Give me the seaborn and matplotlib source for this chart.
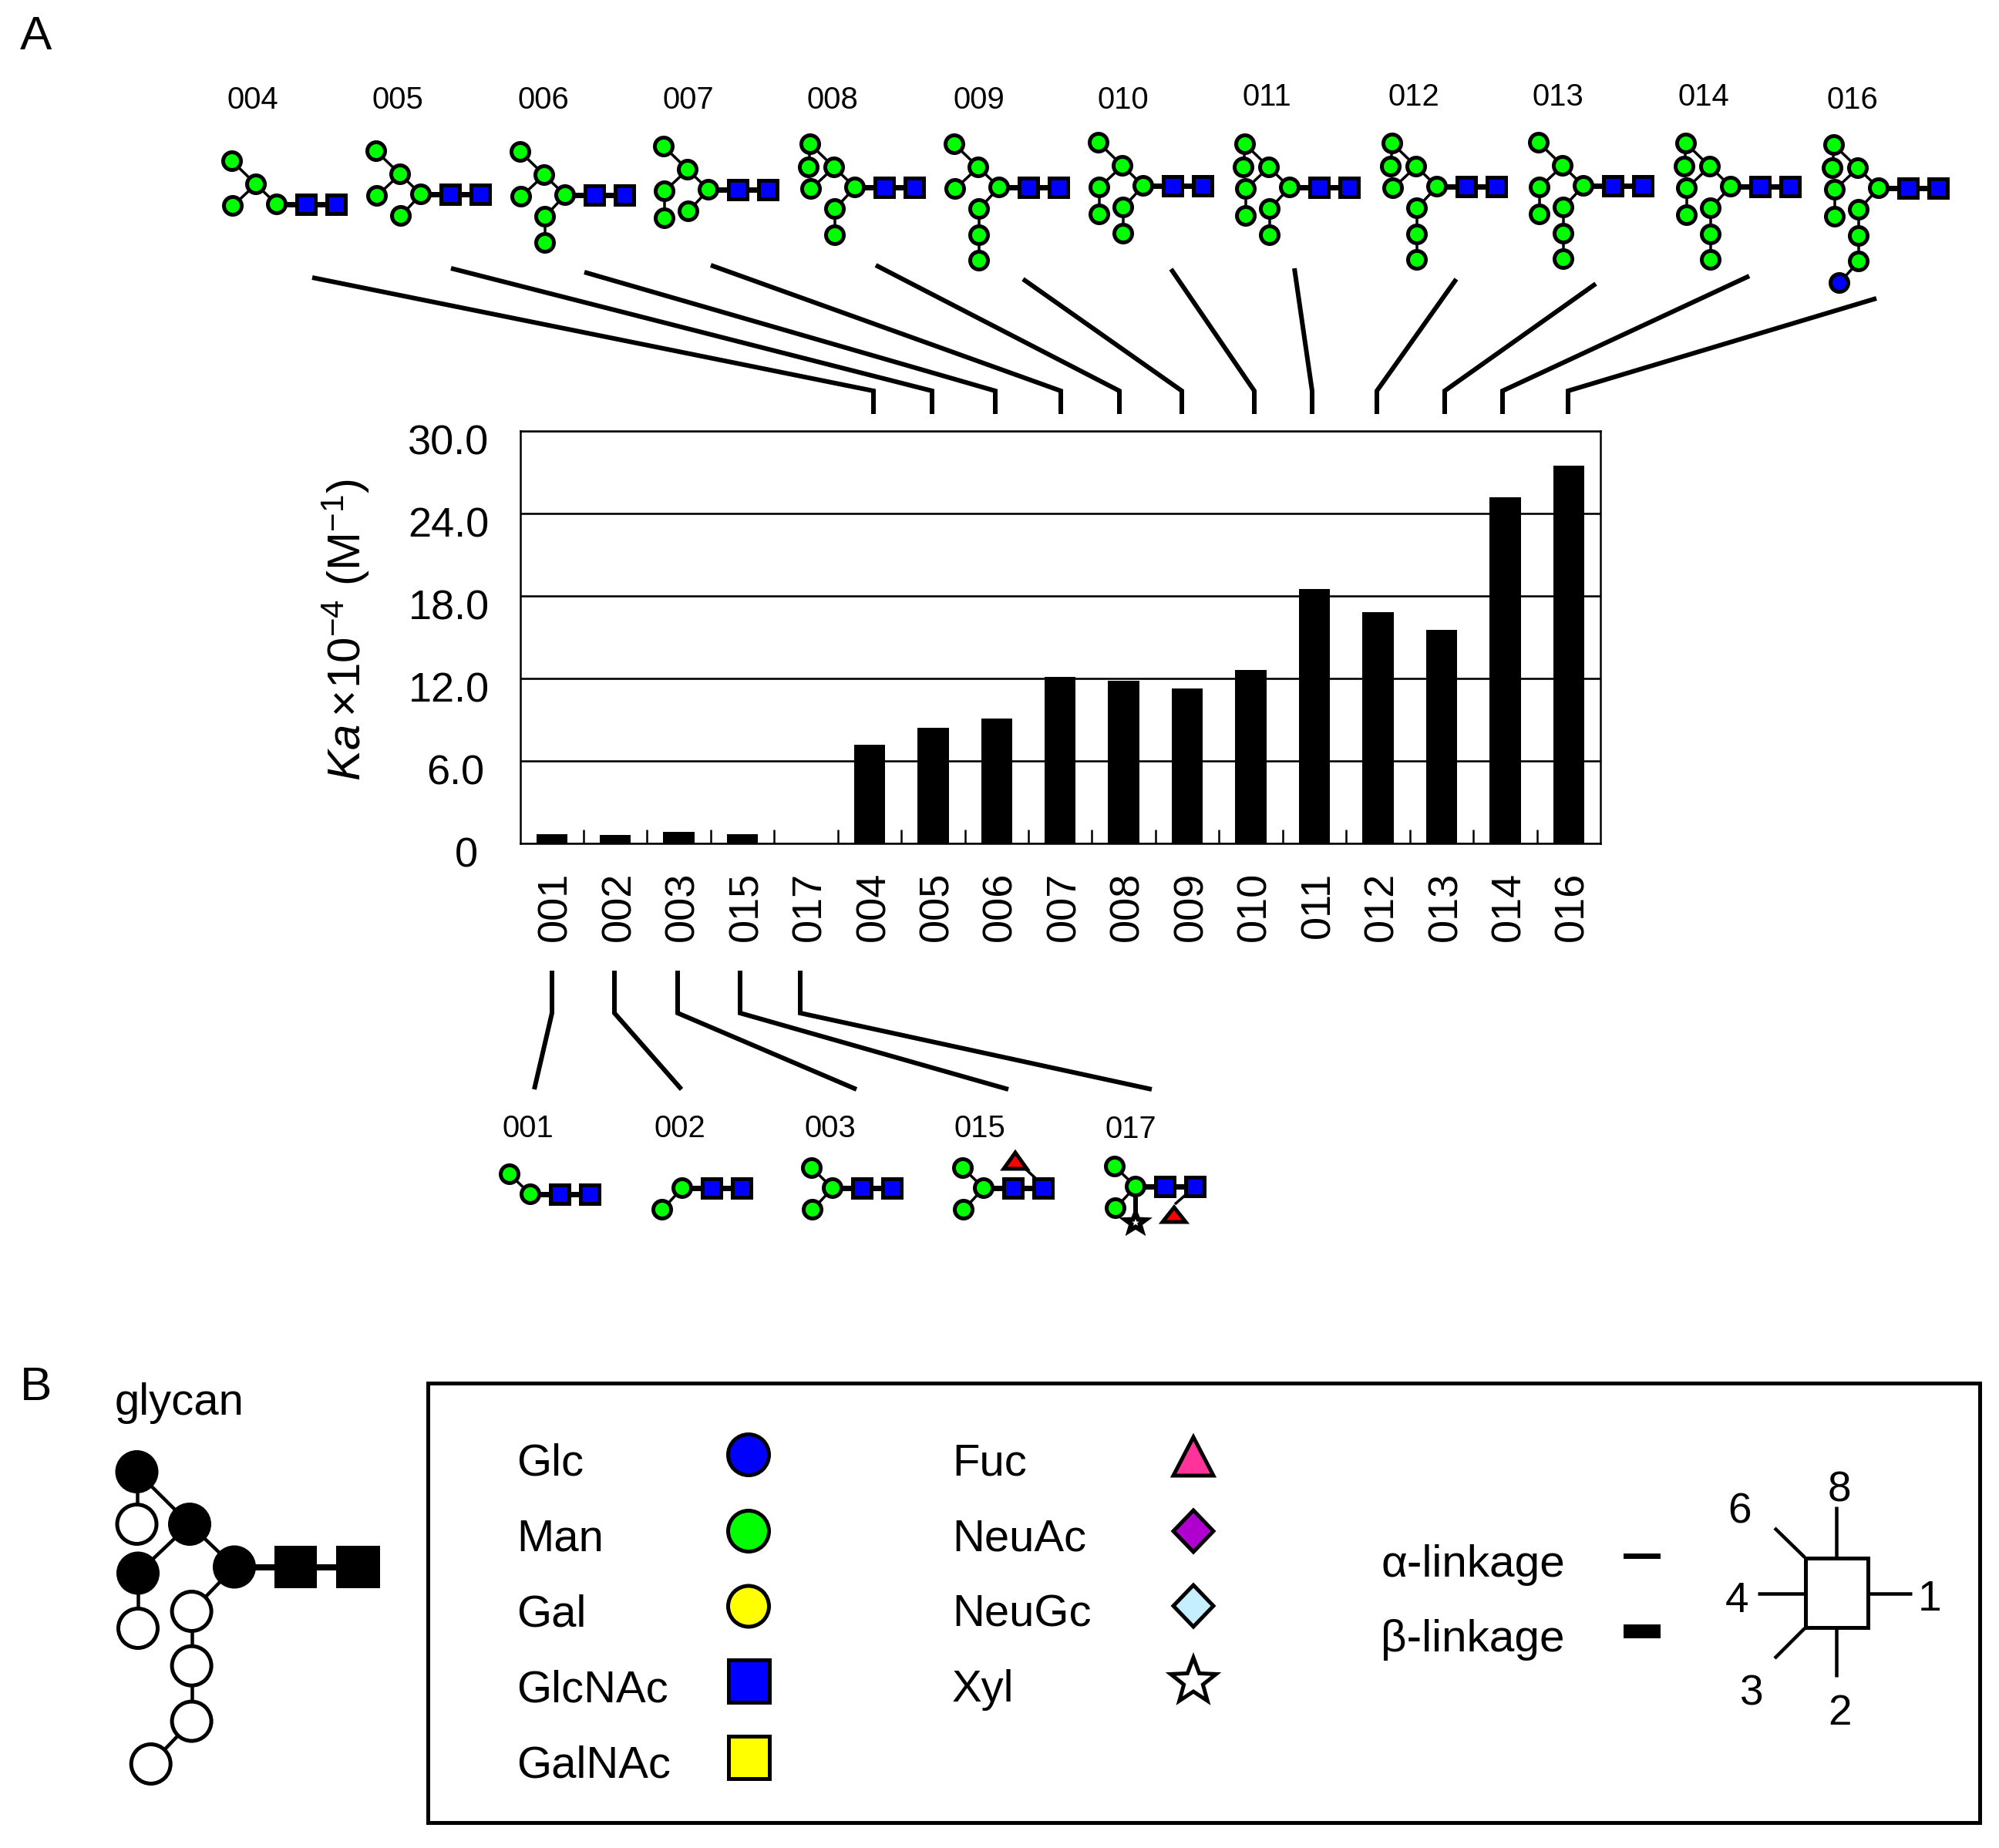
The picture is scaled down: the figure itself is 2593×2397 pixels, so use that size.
import numpy as np
import seaborn as sns
import matplotlib
matplotlib.use("Agg")
import matplotlib.pyplot as plt
from matplotlib.patches import Circle, Rectangle, Polygon
from matplotlib.transforms import ScaledTranslation

# --- data ---
glycan_ids = ['001', '002', '003', '015', '017', '004', '005', '006', '007',
              '008', '009', '010', '011', '012', '013', '014', '016']
ka_values = [0.65, 0.58, 0.83, 0.65, 0.0, 7.17, 8.37, 9.07, 12.1,
             11.83, 11.26, 12.6, 18.5, 16.8, 15.53, 25.2, 27.5]
y_tick_values = [0, 6, 12, 18, 24, 30]
y_tick_labels = ['0', '6.0', '12.0', '18.0', '24.0', '30.0']

top_ids = ['004', '005', '006', '007', '008', '009', '010', '011', '012', '013', '014', '016']
bottom_ids = ['001', '002', '003', '015', '017']

# which residues each glycan has, on top of the root Man and the two GlcNAc
branches = {
    '001': ['U'],
    '002': ['L'],
    '003': ['U', 'L'],
    '015': ['U', 'L'],
    '017': ['U', 'L'],
    '004': ['U', 'UT', 'UL'],
    '005': ['U', 'UT', 'UL', 'L'],
    '006': ['U', 'UT', 'UL', 'L', 'L2'],
    '007': ['U', 'UT', 'UL', 'UL2', 'L'],
    '008': ['U', 'UT', 'UTb', 'UL', 'L', 'L2'],
    '009': ['U', 'UT', 'UL', 'L', 'L2', 'L3'],
    '010': ['U', 'UT', 'UL', 'UL2', 'L', 'L2'],
    '011': ['U', 'UT', 'UTb', 'UL', 'UL2', 'L', 'L2'],
    '012': ['U', 'UT', 'UTb', 'UL', 'L', 'L2', 'L3'],
    '013': ['U', 'UT', 'UL', 'UL2', 'L', 'L2', 'L3'],
    '014': ['U', 'UT', 'UTb', 'UL', 'UL2', 'L', 'L2', 'L3'],
    '016': ['U', 'UT', 'UTb', 'UL', 'UL2', 'L', 'L2', 'L3', 'G'],
}
parents = {'U': 'root', 'UT': 'U', 'UTb': 'UT', 'UL': 'U', 'UL2': 'UL',
           'L': 'root', 'L2': 'L', 'L3': 'L2', 'G': 'L3'}

legend_left = ['Glc', 'Man', 'Gal', 'GlcNAc', 'GalNAc']
legend_right = ['Fuc', 'NeuAc', 'NeuGc', 'Xyl']
position_numbers = ['8', '6', '4', '1', '3', '2']

# --- layout, in pixels of the output picture ---
offsets = {'root': (0, 0), 'U': (-27, -26), 'UT': (-58, -56), 'UTb': (-60, -26),
           'UL': (-57, 2), 'UL2': (-57, 37), 'L': (-26, 28), 'L2': (-26, 62),
           'L3': (-26, 95), 'G': (-51, 123)}
roots = {'004': (359, 265), '005': (546, 252), '006': (733, 253), '007': (919, 246),
         '008': (1109, 243), '009': (1296, 243), '010': (1483, 241), '011': (1673, 243),
         '012': (1864, 242), '013': (2054, 241), '014': (2245, 242), '016': (2437, 244),
         '001': (688, 1549), '002': (885, 1541), '003': (1080, 1541), '015': (1276, 1541),
         '017': (1473, 1539)}
label_pos = {'004': (328, 130), '005': (516, 130), '006': (705, 130), '007': (893, 130),
             '008': (1080, 130), '009': (1270, 130), '010': (1457, 130), '011': (1643, 126),
             '012': (1834, 126), '013': (2021, 126), '014': (2210, 126), '016': (2403, 130),
             '001': (685, 1464), '002': (882, 1464), '003': (1077, 1464), '015': (1271, 1464),
             '017': (1467, 1465)}
top_leaders = [(405, 360, 1133), (585, 348, 1209), (758, 353, 1291), (922, 344, 1376),
               (1136, 344, 1452), (1327, 362, 1533), (1519, 349, 1627), (1679, 348, 1702),
               (1889, 362, 1786), (2070, 368, 1874), (2269, 358, 1949), (2434, 387, 2034)]
bottom_leaders = [(716, 693), (797, 884), (879, 1111), (960, 1308), (1038, 1494)]

W, H, DPI = 2593, 2397, 100
FONT = 'Liberation Sans'
BLUE, GREEN, YELLOW = '#0000ff', '#00ff00', '#ffff00'


def pt(px):
    """pixels to points"""
    return px * 72 / DPI


sns.set_theme(style='white')
plt.rcParams['font.family'] = [FONT, 'DejaVu Sans']
plt.rcParams['mathtext.fontset'] = 'custom'
plt.rcParams['mathtext.rm'] = FONT
plt.rcParams['mathtext.it'] = FONT + ':italic'
plt.rcParams['mathtext.bf'] = FONT + ':bold'

fig = plt.figure(figsize=(W / DPI, H / DPI), dpi=DPI, facecolor='white')

# --- bar chart ---
left, right, top, bottom = 674.5, 2076, 559, 1093.6
ax = fig.add_axes([left / W, 1 - bottom / H, (right - left) / W, (bottom - top) / H])
sns.barplot(x=glycan_ids, y=ka_values, color='black', saturation=1, width=0.49, linewidth=0, ax=ax)
ax.set_xlim(-0.5, 16.5)
ax.set_ylim(0, 30)
ax.set_yticks(y_tick_values, y_tick_labels)
ax.set_axisbelow(True)
ax.yaxis.grid(True, color='black', linewidth=pt(2.6))
ax.set_xticks(np.arange(0.5, 16), minor=True)
ax.tick_params(axis='x', which='minor', direction='in', bottom=True, length=pt(18), width=pt(2.5), color='black')
ax.tick_params(axis='x', which='major', length=0, pad=pt(37), labelsize=pt(54), labelcolor='black', labelrotation=90)
ax.tick_params(axis='y', length=0, pad=pt(40), labelsize=pt(54), labelcolor='black')
for spine in ax.spines.values():
    spine.set_color('black')
    spine.set_linewidth(pt(2.5))
# tick labels sit a little off their ticks in the original
for lab in ax.get_xticklabels():
    lab.set_va('top')
    lab.set_transform(lab.get_transform() + ScaledTranslation(pt(5) / 72, 0, fig.dpi_scale_trans))
shift_x = {'6.0': -6, '0': -15}
for lab in ax.get_yticklabels():
    shift = ScaledTranslation(pt(shift_x.get(lab.get_text(), 0)) / 72, pt(-11) / 72, fig.dpi_scale_trans)
    lab.set_transform(lab.get_transform() + shift)
ax.set_ylabel(r'$\mathit{Ka}\times\!10^{-4}$ (M$^{-1}$)', fontsize=pt(60), color='black')
ax.yaxis.set_label_coords((482 - left) / (right - left), (bottom - 817) / (bottom - top))

# --- everything else is drawn on a full figure axes in pixel coordinates ---
ov = fig.add_axes([0, 0, 1, 1], facecolor='none')
ov.set_xlim(0, W)
ov.set_ylim(H, 0)
ov.axis('off')


def link(x0, y0, x1, y1, w, z=2):
    ov.plot([x0, x1], [y0, y1], color='black', linewidth=pt(w), solid_capstyle='butt', zorder=z)


def circle(x, y, r, fc, lw):
    ov.add_patch(Circle((x, y), r, facecolor=fc, edgecolor='black', linewidth=pt(lw), zorder=3))


def square(x, y, w, h, fc, lw):
    ov.add_patch(Rectangle((x - w / 2, y - h / 2), w, h, facecolor=fc, edgecolor='black',
                           linewidth=pt(lw), joinstyle='miter', zorder=3))


def poly(points, fc, lw):
    ov.add_patch(Polygon(points, closed=True, facecolor=fc, edgecolor='black',
                         linewidth=pt(lw), joinstyle='miter', zorder=3))


def star(x, y, rx, ry, fc, lw):
    ang = np.pi / 2 + np.arange(10) * np.pi / 5
    rad = np.where(np.arange(10) % 2 == 0, 1.0, 0.42)
    poly(np.column_stack([x + rx * rad * np.cos(ang), y - ry * rad * np.sin(ang)]), fc, lw)


def label(x, y, s, size, **kw):
    ov.text(x, y, s, fontsize=pt(size), color='black', ha=kw.pop('ha', 'center'), va='center', **kw)


def draw_glycan(gid):
    rx, ry = roots[gid]
    pos = {'root': (rx, ry)}
    for name in branches[gid]:
        pos[name] = (rx + offsets[name][0], ry + offsets[name][1])
    for name in branches[gid]:
        link(*pos[name], *pos[parents[name]], 3.5)
    link(rx, ry, rx + 77, ry, 7)
    for name, (x, y) in pos.items():
        circle(x, y, 11.5, BLUE if name == 'G' else GREEN, 5)
    square(rx + 38, ry, 24, 24, BLUE, 5)
    square(rx + 77, ry, 24, 24, BLUE, 5)
    label(*label_pos[gid], gid, 40)


for gid in top_ids + bottom_ids:
    draw_glycan(gid)

# extra residues on 015 and 017
link(1331, 1517, 1343, 1528, 3.5)
poly([(1317, 1495), (1302, 1516), (1332, 1516)], '#ff0000', 5)
link(1524, 1562, 1541, 1547, 3.5)
poly([(1523, 1566), (1508, 1585), (1538, 1585)], '#ff0000', 5)
link(1473, 1539, 1473, 1582, 6)
star(1473, 1586, 14, 13, '#ffffff', 6)

# leader lines
for x0, y0, x1 in top_leaders:
    ov.plot([x0, x1, x1], [y0, 507, 537], color='black', linewidth=pt(6),
            solid_joinstyle='miter', solid_capstyle='butt')
for x0, x1 in bottom_leaders:
    ov.plot([x0, x0, x1], [1259, 1314, 1413], color='black', linewidth=pt(6),
            solid_joinstyle='miter', solid_capstyle='butt')

# panel letters
label(47, 48, 'A', 62)
label(47, 1800, 'B', 62)
label(233, 1820, 'glycan', 58)

# panel B glycan
big = {'n1': (177.5, 1909), 'n2': (177.5, 1977), 'n3': (246, 1977), 'n4': (179, 2040.5),
       'n5': (179, 2112), 'n6': (304, 2032.5), 'n7': (248.6, 2090), 'n8': (248.6, 2160.7),
       'n9': (248.6, 2232.6), 'n10': (195.7, 2288)}
big_links = [('n1', 'n2'), ('n1', 'n3'), ('n3', 'n4'), ('n3', 'n6'), ('n4', 'n5'),
             ('n6', 'n7'), ('n7', 'n8'), ('n8', 'n9'), ('n9', 'n10')]
big_filled = ['n1', 'n3', 'n4', 'n6']
for a, b in big_links:
    link(*big[a], *big[b], 4.5)
link(304, 2032.5, 464, 2032.5, 8)
for name, (x, y) in big.items():
    circle(x, y, 25.5, 'black' if name in big_filled else 'white', 5)
square(383.5, 2032.5, 55, 55, 'black', 0)
square(464.5, 2032.5, 57, 55, 'black', 0)

# legend box
ov.add_patch(Rectangle((555, 1794), 2013, 570, fill=False, edgecolor='black', linewidth=pt(5), joinstyle='miter'))
rows_y = [1899, 1997, 2094.5, 2192, 2290]
sym_y = [1887, 1986, 2083.5, 2180.5, 2279]
for name, y in zip(legend_left, rows_y):
    label(670, y, name, 58, ha='left')
for name, y in zip(legend_right, rows_y):
    label(1235, y, name, 58, ha='left')
circle(971, sym_y[0], 26.5, BLUE, 5)
circle(971, sym_y[1], 26.5, GREEN, 5)
circle(971, sym_y[2], 26.5, YELLOW, 5)
square(971, sym_y[3], 53, 55, BLUE, 5)
square(971, sym_y[4], 53, 55, YELLOW, 5)
poly([(1548, 1864), (1522, 1914), (1574, 1914)], '#ff3399', 5)
poly([(1548, 1959), (1522, 1986), (1548, 2013), (1574, 1986)], '#b000d0', 5)
poly([(1548, 2056), (1522, 2083), (1548, 2110), (1574, 2083)], '#c5eeff', 5)
star(1548, 2181, 31, 31, 'white', 5)

# linkage key
label(1791, 2030, '\u03b1-linkage', 58.5, ha='left')
label(1791, 2127, '\u03b2-linkage', 58.5, ha='left')
ov.add_patch(Rectangle((2106, 2015), 48, 7, facecolor='black', edgecolor='none'))
ov.add_patch(Rectangle((2106, 2107), 48, 18, facecolor='black', edgecolor='none'))
square(2382, 2066, 81, 90, 'white', 5)
link(2382, 1954, 2382, 2020, 4.5)
link(2382, 2113, 2382, 2175, 4.5)
link(2280, 2066.5, 2340, 2066.5, 4.5)
link(2424, 2066.5, 2480, 2066.5, 4.5)
link(2302, 1982, 2341, 2020, 4.5)
link(2302, 2151, 2341, 2112, 4.5)
number_pos = [(2386, 1934), (2257, 1961), (2253.5, 2077), (2503, 2075), (2272, 2197), (2386, 2223)]
for num, (x, y) in zip(position_numbers, number_pos):
    label(x, y, num, 55)

fig.savefig('out.png', dpi=DPI)
